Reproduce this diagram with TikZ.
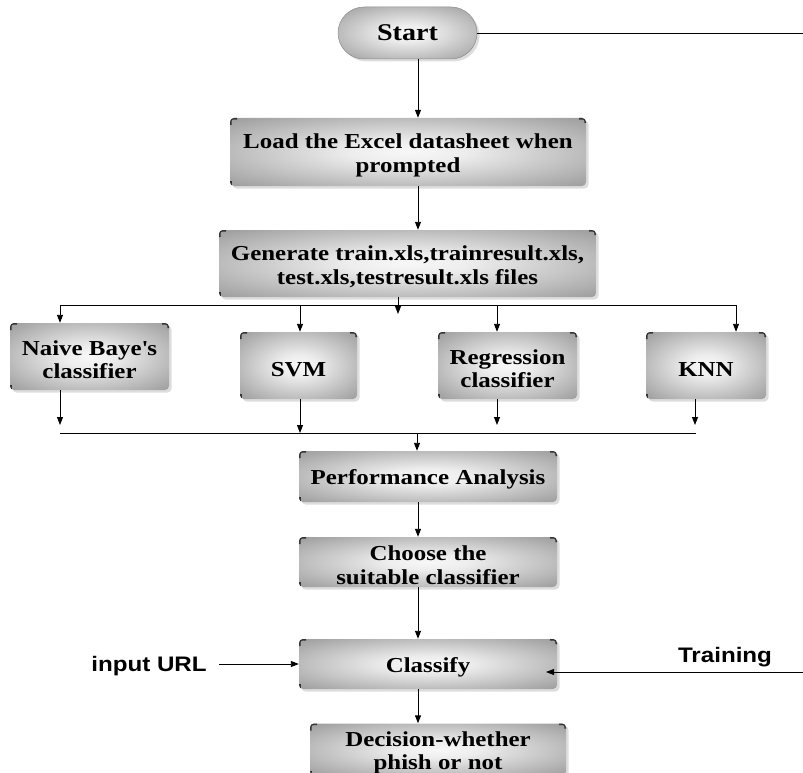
\documentclass[tikz,border=0pt]{standalone}
\usepackage{fontspec}
\setmainfont{Liberation Serif}[FakeStretch=1.17]
\newfontfamily\labelsans{Liberation Sans}[FakeStretch=1.15]
\usetikzlibrary{arrows.meta,shapes.misc,shadows}
\pgfdeclareradialshading{boxshade}{\pgfpoint{0bp}{0bp}}{color(0bp)=(black!3); color(8bp)=(black!7); color(34bp)=(black!37); color(50bp)=(black!44)}
\newcommand{\toppad}{\rule{0pt}{21.5pt}}
\tikzset{
  boxshadow/.style={drop shadow={shadow xshift=2.5pt, shadow yshift=-2.5pt, fill=black!22, opacity=0.6}},
  cornermarks/.style={path picture={
      \draw[line width=3.2pt, black!80, rounded corners=3pt]
        ([yshift=-7pt]path picture bounding box.north west) -- (path picture bounding box.north west) -- ([xshift=7pt]path picture bounding box.north west);
      \draw[line width=3.2pt, black!80, rounded corners=3pt]
        ([xshift=-7pt]path picture bounding box.north east) -- (path picture bounding box.north east) -- ([yshift=-5pt]path picture bounding box.north east);
      \draw[line width=3.2pt, black!80]
        ([yshift=5pt]path picture bounding box.south west) -- (path picture bounding box.south west);
  }},
  procbox/.style={rectangle, rounded corners=4pt, shading=boxshade, boxshadow, cornermarks,
      align=center, inner sep=0pt, font=\fontsize{21.3}{23.5}\selectfont\bfseries},
  termbox/.style={rounded rectangle, shading=boxshade, boxshadow, draw=black!45, line width=0.5pt,
      inner sep=0pt, minimum width=139pt, minimum height=52pt, font=\fontsize{24}{26}\selectfont\bfseries},
  sidelabel/.style={inner sep=0pt, font=\labelsans\fontsize{21}{23}\selectfont\bfseries},
  conn/.style={line width=0.9pt, black},
  arr/.style={conn, -{Triangle[length=8pt,width=6pt]}}
}
\begin{document}
\begin{tikzpicture}[x=1pt,y=-1pt]
\useasboundingbox (0,0) rectangle (803,773);
% nodes
\node[termbox] (Start) at (407.5,33) {Start};
\node[procbox, minimum width=356pt, minimum height=68pt] (Load) at (408,152) {\toppad Load the Excel datasheet when\\prompted};
\node[procbox, minimum width=377pt, minimum height=67pt] (Gen) at (407.5,263.5) {\toppad Generate train.xls,trainresult.xls,\\test.xls,testresult.xls files};
\node[procbox, minimum width=159pt, minimum height=67pt] (Naive) at (89.5,356.5) {\toppad Naive Baye\textquotesingle s\\classifier};
\node[procbox, minimum width=117pt, minimum height=67pt] (SVM) at (298.5,365.5) {\toppad SVM};
\node[procbox, minimum width=139pt, minimum height=67pt] (Reg) at (507.5,365.5) {\toppad Regression\\classifier};
\node[procbox, minimum width=120pt, minimum height=67pt] (KNN) at (706,365.5) {\toppad KNN};
\node[procbox, minimum width=258pt, minimum height=51pt] (Perf) at (428,476.5) {\toppad Performance Analysis};
\node[procbox, minimum width=258pt, minimum height=50pt] (Choose) at (428,562) {\toppad Choose the\\suitable classifier};
\node[procbox, minimum width=258pt, minimum height=50pt] (Classify) at (428,664) {\toppad Classify};
\node[procbox, minimum width=256pt, minimum height=52pt] (Dec) at (438,749.5) {\toppad Decision-whether\\phish or not};
\node[sidelabel] (inurl) at (149,666) {input URL};
\node[sidelabel] (train) at (725,657) {Training};
% helper coordinates
\coordinate (cA) at (418,0);
\coordinate (startEnd) at (803,33);
\coordinate (gB) at (398,314);
\coordinate (busL) at (60,305);
\coordinate (b2) at (300,305);
\coordinate (b3) at (497,305);
\coordinate (busR) at (736,305);
\coordinate (lo1) at (60,425);
\coordinate (lo2) at (300,433);
\coordinate (lo3) at (497,425);
\coordinate (lo4) at (695,425);
\coordinate (bus2L) at (60,433);
\coordinate (bus2R) at (696,433);
\coordinate (perfIn) at (417,433);
\coordinate (urlStart) at (219,664);
\coordinate (trainStart) at (803,672);
\coordinate (trainEnd) at (546,672);
% connectors
\draw[conn] (Start.east) -- (startEnd);
\draw[arr] (Start.south -| cA) -- (Load.north -| cA);
\draw[arr] (Load.south -| cA) -- (Gen.north -| cA);
\draw[arr] (Gen.south -| gB) -- (gB);
\draw[conn] (busL) -- (busR);
\draw[arr] (busL) -- (busL |- Naive.north);
\draw[arr] (b2) -- (b2 |- SVM.north);
\draw[arr] (b3) -- (b3 |- Reg.north);
\draw[arr] (busR) -- (busR |- KNN.north);
\draw[arr] (Naive.south -| lo1) -- (lo1);
\draw[arr] (SVM.south -| lo2) -- (lo2);
\draw[arr] (Reg.south -| lo3) -- (lo3);
\draw[arr] (KNN.south -| lo4) -- (lo4);
\draw[conn] (bus2L) -- (bus2R);
\draw[arr] (perfIn) -- (perfIn |- Perf.north);
\draw[arr] (Perf.south -| cA) -- (Choose.north -| cA);
\draw[arr] (Choose.south -| cA) -- (Classify.north -| cA);
\draw[arr] (Classify.south -| cA) -- (Dec.north -| cA);
\draw[arr] (urlStart) -- (Classify.west);
\draw[arr] (trainStart) -- (trainEnd);
\end{tikzpicture}
\end{document}
